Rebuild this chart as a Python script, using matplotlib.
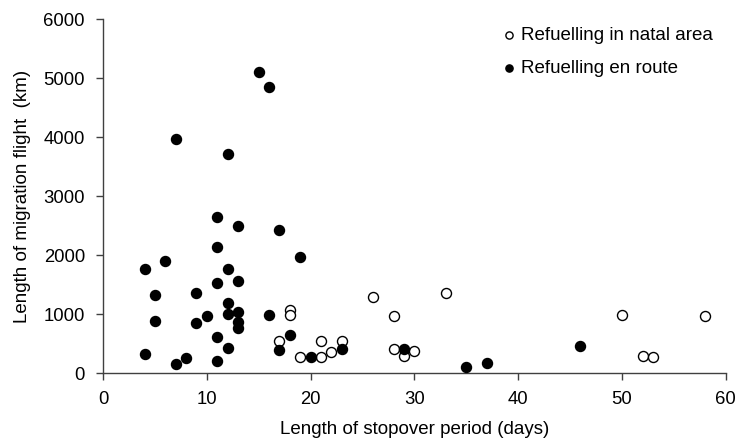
import matplotlib
matplotlib.use("Agg")
import matplotlib.pyplot as plt

plt.rcParams['font.family'] = ['Liberation Sans', 'DejaVu Sans']

# Refuelling in natal area (open circles)
natal_days = [18, 18, 17, 19, 21, 21, 22, 23, 26, 28, 33, 28, 29, 30, 50, 58, 52, 53]
natal_km = [1070, 990, 540, 270, 540, 270, 350, 540, 1280, 960, 1360, 410, 280, 370, 980, 960, 290, 270]

# Refuelling en route (filled circles)
route_days = [15, 16, 7, 12, 11, 13, 17, 11, 19, 6, 4, 12, 13, 11, 5, 9, 12, 12, 13, 10,
              16, 13, 13, 5, 9, 11, 18, 12, 17, 4, 8, 7, 11, 20, 23, 29, 35, 37, 46]
route_km = [5100, 4850, 3960, 3720, 2650, 2490, 2430, 2130, 1970, 1900, 1770, 1770, 1560, 1520,
            1320, 1360, 1190, 1000, 1030, 960, 980, 860, 760, 880, 840, 610, 640, 430, 390, 330,
            250, 150, 210, 270, 410, 410, 100, 170, 450]

xticks = [0, 10, 20, 30, 40, 50, 60]
yticks = [0, 1000, 2000, 3000, 4000, 5000, 6000]

fig = plt.figure(figsize=(7.36, 4.38), dpi=100)
ax = fig.add_axes([0.140, 0.1484, 0.846, 0.8082])

ax.scatter(natal_days, natal_km, s=52, facecolor='white', edgecolor='black', linewidth=1.0,
           label='Refuelling in natal area', zorder=3)
ax.scatter(route_days, route_km, s=52, facecolor='black', edgecolor='black', linewidth=1.0,
           label='Refuelling en route', zorder=4)

ax.set_xlim(0, 60)
ax.set_ylim(0, 6000)
ax.set_xticks(xticks)
ax.set_yticks(yticks)
ax.tick_params(direction='out', length=5, width=1, labelsize=13.3, color='#404040')
ax.tick_params(axis='x', pad=8)
ax.tick_params(axis='y', pad=8)
for sp in ['top', 'right']:
    ax.spines[sp].set_visible(False)
for sp in ['left', 'bottom']:
    ax.spines[sp].set_linewidth(1.0)
    ax.spines[sp].set_color('#404040')

ax.set_xlabel('Length of stopover period (days)', fontsize=13.5, labelpad=9)
ax.set_ylabel('Length of migration flight  (km)', fontsize=13.5, labelpad=9)

leg = ax.legend(loc='upper right', bbox_to_anchor=(1.0, 1.015), frameon=False, fontsize=13.5,
                handletextpad=0.1, labelspacing=0.85, markerscale=0.72, borderaxespad=0.3,
                handlelength=1.0)

fig.savefig('out.png', dpi=100)
